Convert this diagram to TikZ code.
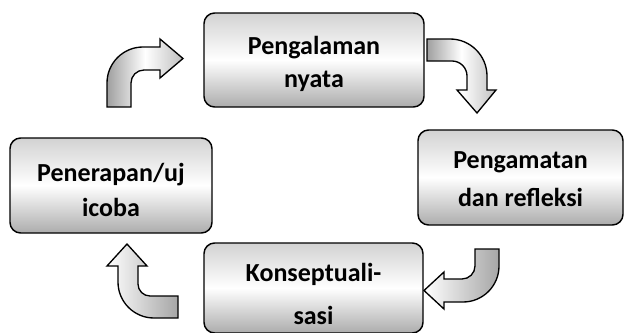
\documentclass[tikz,border=0pt]{standalone}
\usepackage{fontspec}
\setmainfont{Carlito}
\usetikzlibrary{positioning}
\tikzset{
        stagebox/.style={draw=black, line width=1.1pt, rounded corners=8pt, inner sep=0pt,
                top color=gray!35, bottom color=gray!65, middle color=white},
        % Text inside the stages
        stagetext/.style={align=center, inner sep=0pt, font=\bfseries\fontsize{19.5pt}{24.75pt}\selectfont},
        % Bent block arrows
        bentarrow/.style={draw=black, line width=1pt, line join=miter},
        darkleft/.style={bentarrow, left color=gray!75, right color=gray!50, middle color=white},
        darkright/.style={bentarrow, left color=white, right color=gray!70}
}
\begin{document}
\begin{tikzpicture}[x=0.75pt, y=-0.75pt]
            \useasboundingbox (0,0) rectangle (624,332);
            % Stages
            \node[stagebox, minimum width=165pt, minimum height=70.5pt] (nyata) at (314,60) {};
            \node[stagebox, minimum width=153.75pt, minimum height=71.25pt] (refleksi) at (520.5,177.5) {};
            \node[stagebox, minimum width=164.25pt, minimum height=67.5pt] (konsep) at (313.5,288) {};
            \node[stagebox, minimum width=151.5pt, minimum height=71.25pt] (ujicoba) at (111,185.5) {};
            \node[stagetext] (nyata_t) at (314,63.5) {Pengalaman\\nyata};
            \node[stagetext] (refleksi_t) at (520.5,179.5) {Pengamatan\\[3.75pt]dan refleksi};
            \node[stagetext] (konsep_t) at (313.5,294) {Konseptuali-\\[7pt]sasi};
            \node[stagetext] (ujicoba_t) at (111,190) {Penerapan/uj\\[1.5pt]icoba};
            % Arrows between the stages
            \draw[darkleft] (107,107) -- (107,83) .. controls (107,63.1) and (123.1,47) .. (143,47)
                -- (160,47) -- (160,39) -- (183,58.5) -- (160,78) -- (160,70) -- (144,70)
                .. controls (136.8,70) and (131,75.8) .. (131,83) -- (131,107) -- cycle;
            \draw[darkleft] (427,39) -- (450,39) .. controls (470.4,39) and (487,55.6) .. (487,76)
                -- (487,90) -- (496,90) -- (477,113) -- (457,90) -- (467,90) -- (467,76)
                .. controls (467,67.7) and (460.3,61) .. (452,61) -- (427,61) -- cycle;
            \draw[darkright] (475,249) -- (499,249) -- (499,266) .. controls (499,285.9) and (482.9,302) .. (463,302)
                -- (444,302) -- (444,309) -- (424,290.5) -- (444,272) -- (444,279) -- (462,279)
                .. controls (469.2,279) and (475,273.2) .. (475,266) -- cycle;
            \draw[darkright] (178,296) -- (178,318) -- (154,318) .. controls (134.1,318) and (118,301.9) .. (118,282)
                -- (118,266) -- (107,266) -- (127,244) -- (147,266) -- (138,266) -- (138,284)
                .. controls (138,290.6) and (143.4,296) .. (150,296) -- cycle;
\end{tikzpicture}
\end{document}
